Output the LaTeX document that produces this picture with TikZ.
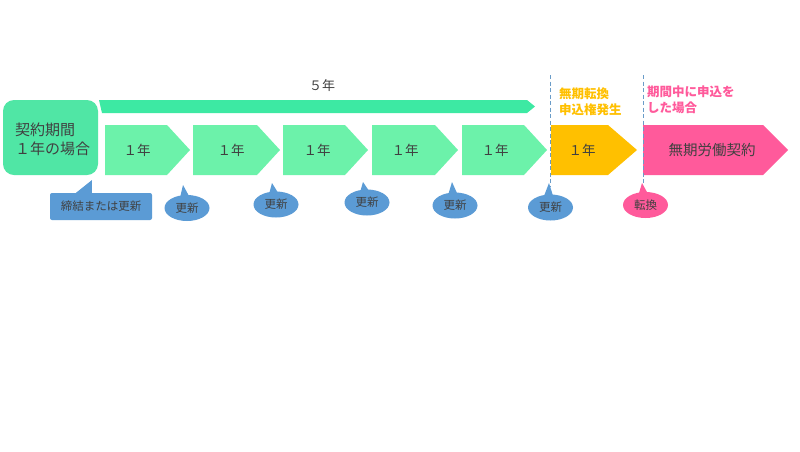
\documentclass[tikz,border=0pt]{standalone}
\usepackage{fontspec}
\setmainfont{Noto Sans CJK JP}
\usetikzlibrary{shapes.geometric,calc}
\definecolor{boxgreen}{HTML}{50E6A5}
\definecolor{bargreen}{HTML}{3DE9A3}
\definecolor{chevgreen}{HTML}{6CF2AA}
\definecolor{callblue}{HTML}{5B9BD5}
\definecolor{orangec}{HTML}{FFC000}
\definecolor{pinkc}{HTML}{FF5A9B}
\definecolor{dashblue}{HTML}{6A9CC8}
\definecolor{txtgray}{HTML}{404040}
\begin{document}
\begin{tikzpicture}[x=1pt,y=-1pt,
  chevtext/.style={text=txtgray,font=\fontsize{13.5}{15}\selectfont,inner sep=0pt},
  calltext/.style={text=txtgray,font=\fontsize{11.5}{13}\selectfont},
  bubble/.style={ellipse,minimum width=45pt,minimum height=26pt,inner sep=0pt,calltext},
  divider/.style={dashblue,dashed,line width=1pt,dash pattern=on 4pt off 2.5pt},
  notetext/.style={font=\bfseries\fontsize{12.5}{15.5}\selectfont,align=left,inner sep=0pt,anchor=north west}
]
\useasboundingbox (0,0) rectangle (800,451);
\fill[white] (0,0) rectangle (800,451);

% dashed dividers
\coordinate (d1top) at (550,75);
\coordinate (d1bot) at (550,186);
\coordinate (d2top) at (643,75);
\coordinate (d2bot) at (643,186);

% contract box
\node[fill=boxgreen,rounded corners=11pt,minimum width=95pt,minimum height=75pt,inner sep=0pt] (box) at (50.5,137.5) {};
\node[text=txtgray,font=\fontsize{15}{19}\selectfont,align=left,anchor=west,inner sep=0pt] (boxtext) at (15,139) {契約期間\\１年の場合};

% 5 year bar
\fill[bargreen] (99,100) -- (527,100) -- (535,106.5) -- (527,113) -- (102,113) -- cycle;
\node[text=txtgray,font=\fontsize{13}{15}\selectfont] (five) at (322,86) {５年};

% chevrons
\foreach \l/\s/\p in {105/167/190, 193/257/280, 283/345/368, 372/435/458, 462/524/547}{
  \fill[chevgreen] (\l,125) -- (\s,125) -- (\p,150) -- (\s,175) -- (\l,175) -- cycle;
}
\node[chevtext] (c1) at (137,150) {１年};
\node[chevtext] (c2) at (231,150) {１年};
\node[chevtext] (c3) at (317,150) {１年};
\node[chevtext] (c4) at (405,150) {１年};
\node[chevtext] (c5) at (495,150) {１年};

% orange and pink
\fill[orangec] (551,125) -- (608,125) -- (637,150) -- (608,175) -- (551,175) -- cycle;
\node[chevtext] (c6) at (582,150) {１年};
\fill[pinkc] (643,125) -- (763,125) -- (788,150) -- (763,175) -- (643,175) -- cycle;
\node[text=txtgray,font=\fontsize{14.5}{17}\selectfont,inner sep=0pt] (muki) at (712,150) {無期労働契約};

\draw[divider] (d1top) -- (d1bot);
\draw[divider] (d2top) -- (d2bot);

\node[notetext,text=orangec] (note1) at (559,88) {無期転換\\申込権発生};
\node[notetext,text=pinkc] (note2) at (647,86) {期間中に申込を\\した場合};

% rectangular callout
\node[fill=callblue,rounded corners=2pt,minimum width=102pt,minimum height=27pt,inner sep=0pt,calltext] (start) at (101,206.5) {締結または更新};
\coordinate (starttip) at (92,180);
\fill[callblue] ($(start.north west)+(25,1)$) -- (starttip) -- ($(start.north west)+(42,1)$) -- cycle;

% bubbles
\foreach \n/\cx/\cy/\tx/\ty/\col/\t in {b1/187/208/183/185/callblue/更新, b2/276/204.5/272/183/callblue/更新, b3/367/202.5/363/182/callblue/更新, b4/455/205.5/452/182/callblue/更新, b5/550.5/207.5/549/183/callblue/更新, b6/645.5/205/642/183/pinkc/転換}{
  \node[bubble,fill=\col] (\n) at (\cx,\cy) {\t};
  \coordinate (\n tip) at (\tx,\ty);
  \fill[\col] ($(\n.north)+(-7,3)$) -- (\n tip) -- ($(\n.north)+(3,3)$) -- cycle;
}
\end{tikzpicture}
\end{document}
